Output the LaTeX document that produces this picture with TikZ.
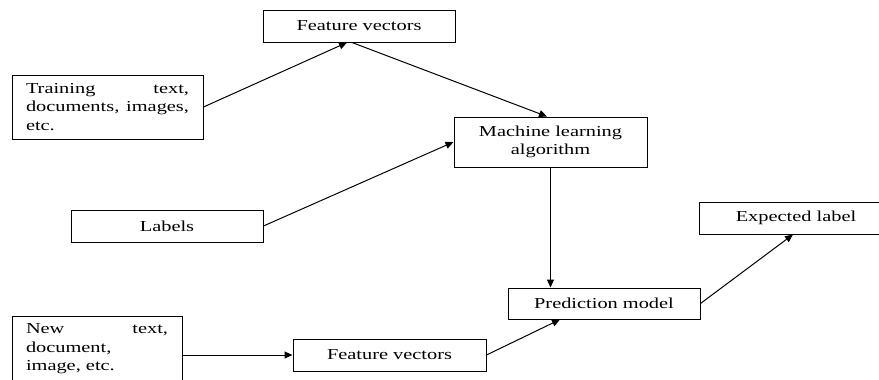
\documentclass[tikz,border=0pt]{standalone}
\usepackage{fontspec}
\setmainfont[FakeStretch=1.34]{Liberation Serif}
\usepackage{tikz}
\usetikzlibrary{arrows.meta}
\hyphenpenalty=10000
\tolerance=9999

\begin{document}
\begin{tikzpicture}[x=0.5pt, y=-0.5pt,
        box/.style={draw, line width=0.5pt, inner sep=0pt, minimum height=16pt,
            font=\fontsize{7.6}{9.25}\selectfont},
        para/.style={box, text width=#1, align=justify, inner xsep=7pt},
        arr/.style={-{Triangle[length=4pt,width=3.5pt]}, line width=0.5pt}]
        \useasboundingbox (0,0) rectangle (879,380);
        \clip (0,0) rectangle (879,380);

        % Draw the boxes
        \node[para=81.5pt, minimum height=32pt] (train) at (107.5,107) {Training text, documents, images, etc.};
        \node[box, minimum width=96pt] (fvtop) at (359,26) {Feature vectors};
        \node[box, minimum width=96.5pt, minimum height=25pt, align=center] (mla) at (550.5,142) {Machine learning\\algorithm};
        \node[box, minimum width=96pt] (labels) at (167,226) {Labels};
        \node[para=71pt, minimum height=33pt] (newdoc) at (97,349) {New text, document, image, etc.};
        \node[box, minimum width=96.5pt] (fvbot) at (389.5,355) {Feature vectors};
        \node[box, minimum width=96pt, minimum height=15.5pt] (pred) at (604,303.5) {Prediction model};
        \node[box, minimum width=97pt] (expl) at (796,218) {Expected label};

        % Arrows
        \draw[arr] (train.east) -- ([xshift=-6pt]fvtop.south);
        \draw[arr] ([xshift=-3.5pt]fvtop.south) -- ([xshift=-1.75pt]mla.north);
        \draw[arr] (labels.east) -- (mla.west);
        \draw[arr] (mla.south) -- (mla.south |- pred.north);
        \draw[arr] (fvbot.west -| newdoc.east) -- (fvbot.west);
        \draw[arr] (fvbot.east) -- ([xshift=-22pt]pred.south);
        \draw[arr] (pred.east) -- ([xshift=-1.5pt]expl.south);
    \end{tikzpicture}
\end{document}
